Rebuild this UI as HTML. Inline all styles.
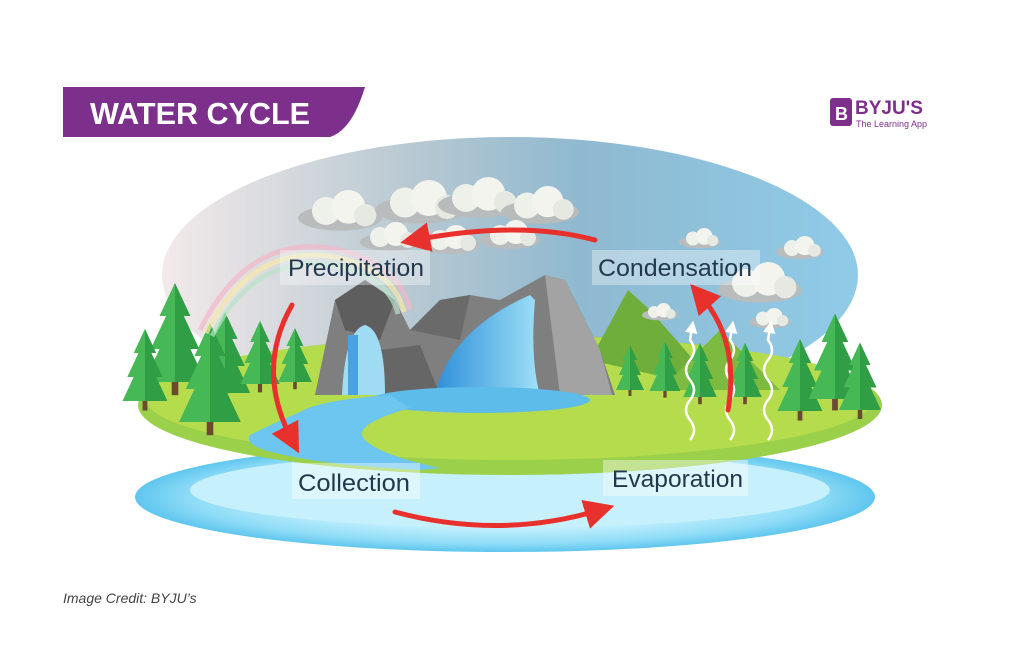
<!DOCTYPE html>
<html><head><meta charset="utf-8"><style>
body{margin:0;background:#fff;width:1023px;height:659px;overflow:hidden;font-family:"Liberation Sans",sans-serif}
</style></head><body>
<svg width="1023" height="659" viewBox="0 0 1023 659" xmlns="http://www.w3.org/2000/svg">
<defs>
<linearGradient id="sky" x1="0" x2="1" y1="0" y2="0">
<stop offset="0" stop-color="#f3eaea"/><stop offset="0.35" stop-color="#b9c9d2"/><stop offset="0.6" stop-color="#8fb9d0"/><stop offset="1" stop-color="#8fcbe8"/></linearGradient>
<radialGradient id="water" cx="0.5" cy="0.5" r="0.5"><stop offset="0.6" stop-color="#bdeefc"/><stop offset="0.85" stop-color="#8fdcf7"/><stop offset="1" stop-color="#5fc6ee"/></radialGradient>
<linearGradient id="fall" x1="0" x2="1"><stop offset="0" stop-color="#2f8fd8"/><stop offset="1" stop-color="#9fe0f7"/></linearGradient>
<marker id="ah" markerWidth="6" markerHeight="6" refX="3" refY="3" orient="auto" markerUnits="strokeWidth"><path d="M0,0 L6,3 L0,6 Z" fill="#e8312d"/></marker>
<marker id="wh" markerWidth="5" markerHeight="5" refX="2" refY="2.5" orient="auto" markerUnits="strokeWidth"><path d="M0,0 L5,2.5 L0,5 Z" fill="#fff"/></marker>
<g id="tree"><path d="M0,-70 L-14,-40 L-8,-40 L-22,-10 L-14,-10 L-28,20 L28,20 L14,-10 L22,-10 L8,-40 L14,-40 Z" fill="#2f9e44"/><path d="M0,-70 L-14,-40 L-8,-40 L-22,-10 L-14,-10 L-28,20 L0,20 Z" fill="#46b956"/><rect x="-3" y="20" width="6" height="12" fill="#6b4a2f"/></g>
<g id="cloud"><ellipse cx="0" cy="0" rx="30" ry="9" fill="#b8bcbc"/><circle cx="-10" cy="-5" r="10" fill="#eef0ea"/><circle cx="6" cy="-8" r="12" fill="#f3f4ee"/><circle cx="18" cy="-2" r="8" fill="#e6e8e2"/></g>
</defs>
<path d="M63,87 H365 Q352,130 330,137 H63 Z" fill="#7d2f8c"/>
<text x="90" y="124" font-size="31" font-weight="bold" fill="#fff" textLength="220" lengthAdjust="spacingAndGlyphs">WATER CYCLE</text>
<rect x="830" y="98" width="22" height="28" rx="3" fill="#7d2f8c"/>
<text x="835" y="120" font-size="18" font-weight="bold" fill="#fff">B</text>
<text x="855" y="114" font-size="19" font-weight="bold" fill="#7d2f8c">BYJU'S</text>
<text x="856" y="127" font-size="9" fill="#7d2f8c">The Learning App</text>
<ellipse cx="510" cy="275" rx="348" ry="138" fill="url(#sky)"/>
<ellipse cx="505" cy="497" rx="370" ry="55" fill="url(#water)"/>
<ellipse cx="510" cy="490" rx="320" ry="38" fill="#c6f0fb"/>
<ellipse cx="510" cy="405" rx="372" ry="70" fill="#9bd04a"/>
<ellipse cx="510" cy="398" rx="365" ry="62" fill="#b5dc4c"/>
<path d="M590,360 L628,290 L650,310 L720,390 Z" fill="#6fae3a"/>
<path d="M660,390 L720,330 L780,390 Z" fill="#7cbb3f"/>
<path d="M315,395 L335,300 L365,280 L395,300 L410,330 L440,300 L470,295 L500,300 L545,275 L565,280 L600,350 L615,395 Z" fill="#7f7f7f"/>
<path d="M545,275 L565,280 L600,350 L612,395 L560,395 Z" fill="#a3a3a3"/>
<path d="M335,300 L365,280 L395,300 L380,340 L345,330 Z" fill="#5e5e5e"/>
<path d="M380,350 L420,345 L440,395 L380,395 Z" fill="#666"/>
<path d="M410,330 L440,300 L470,295 L460,340 Z" fill="#6a6a6a"/>
<path d="M435,395 Q450,330 530,295 L535,300 Q530,360 540,395 Z" fill="url(#fall)"/>
<path d="M342,395 Q345,330 365,325 Q385,330 385,395 Z" fill="#9fdcf4"/>
<rect x="348" y="335" width="10" height="60" fill="#4aa3e0"/>
<ellipse cx="480" cy="400" rx="110" ry="13" fill="#5dbce9"/>
<path d="M390,395 Q320,400 300,412 Q270,425 250,435 Q240,448 300,458 Q340,466 420,470 L440,468 Q380,455 365,440 Q350,425 410,408 Z" fill="#6cc6ef"/>
<use href="#tree" transform="translate(175,360) scale(1.1)"/>
<use href="#tree" transform="translate(225,375) scale(0.9)"/>
<use href="#tree" transform="translate(210,400) scale(1.1)"/>
<use href="#tree" transform="translate(260,370) scale(0.7)"/>
<use href="#tree" transform="translate(295,370) scale(0.6)"/>
<use href="#tree" transform="translate(145,385) scale(0.8)"/>
<use href="#tree" transform="translate(630,380) scale(0.5)"/>
<use href="#tree" transform="translate(665,380) scale(0.55)"/>
<use href="#tree" transform="translate(700,385) scale(0.6)"/>
<use href="#tree" transform="translate(745,385) scale(0.6)"/>
<use href="#tree" transform="translate(800,395) scale(0.8)"/>
<use href="#tree" transform="translate(835,380) scale(0.95)"/>
<use href="#tree" transform="translate(860,395) scale(0.75)"/>
<path d="M200,330 Q250,230 340,250 Q400,265 410,310" fill="none" stroke="#f3b6c8" stroke-width="5" opacity="0.7"/>
<path d="M206,333 Q253,240 340,258 Q395,272 404,312" fill="none" stroke="#f7e8a6" stroke-width="5" opacity="0.7"/>
<path d="M212,336 Q256,250 340,266 Q390,280 398,314" fill="none" stroke="#b8e3c6" stroke-width="5" opacity="0.7"/>
<use href="#cloud" transform="translate(340,218) scale(1.4)"/>
<use href="#cloud" transform="translate(420,210) scale(1.5)"/>
<use href="#cloud" transform="translate(480,205) scale(1.4)"/>
<use href="#cloud" transform="translate(540,212) scale(1.3)"/>
<use href="#cloud" transform="translate(390,242) scale(1)"/>
<use href="#cloud" transform="translate(450,245) scale(1)"/>
<use href="#cloud" transform="translate(510,240) scale(1)"/>
<use href="#cloud" transform="translate(700,242) scale(0.7)"/>
<use href="#cloud" transform="translate(800,252) scale(0.8)"/>
<use href="#cloud" transform="translate(760,290) scale(1.4)"/>
<use href="#cloud" transform="translate(660,315) scale(0.6)"/>
<use href="#cloud" transform="translate(770,322) scale(0.7)"/>
<g fill="none" stroke="#fff" stroke-width="2.5">
<path d="M690,440 q8,-10 0,-20 q-8,-10 0,-20 q8,-10 0,-20 q-8,-10 0,-20 q8,-10 0,-20 L692,328" marker-end="url(#wh)"/>
<path d="M730,440 q8,-10 0,-20 q-8,-10 0,-20 q8,-10 0,-20 q-8,-10 0,-20 q8,-10 0,-20 L732,328" marker-end="url(#wh)"/>
<path d="M768,440 q8,-10 0,-20 q-8,-10 0,-20 q8,-10 0,-20 q-8,-10 0,-20 q8,-10 0,-20 L770,328" marker-end="url(#wh)"/>
</g>
<g fill="none" stroke="#e8312d" stroke-width="5" stroke-linecap="round">
<path d="M595,240 Q520,220 415,240" marker-end="url(#ah)"/>
<path d="M292,305 Q255,370 292,440" marker-end="url(#ah)"/>
<path d="M395,512 Q500,540 600,510" marker-end="url(#ah)"/>
<path d="M728,410 Q740,340 700,295" marker-end="url(#ah)"/>
</g>
<g font-size="24" fill="#22394d">
<rect x="280" y="250" width="150" height="35" fill="#fff" opacity="0.35"/>
<text x="288" y="276" textLength="136" lengthAdjust="spacingAndGlyphs">Precipitation</text>
<rect x="592" y="250" width="168" height="35" fill="#fff" opacity="0.35"/>
<text x="598" y="276" textLength="154" lengthAdjust="spacingAndGlyphs">Condensation</text>
<rect x="292" y="463" width="128" height="36" fill="#fff" opacity="0.4"/>
<text x="298" y="491" textLength="112" lengthAdjust="spacingAndGlyphs">Collection</text>
<rect x="603" y="460" width="145" height="36" fill="#fff" opacity="0.4"/>
<text x="612" y="487" textLength="131" lengthAdjust="spacingAndGlyphs">Evaporation</text>
</g>
<text x="63" y="603" font-size="14" font-style="italic" fill="#444">Image Credit: BYJU’s</text>
</svg>
</body></html>
